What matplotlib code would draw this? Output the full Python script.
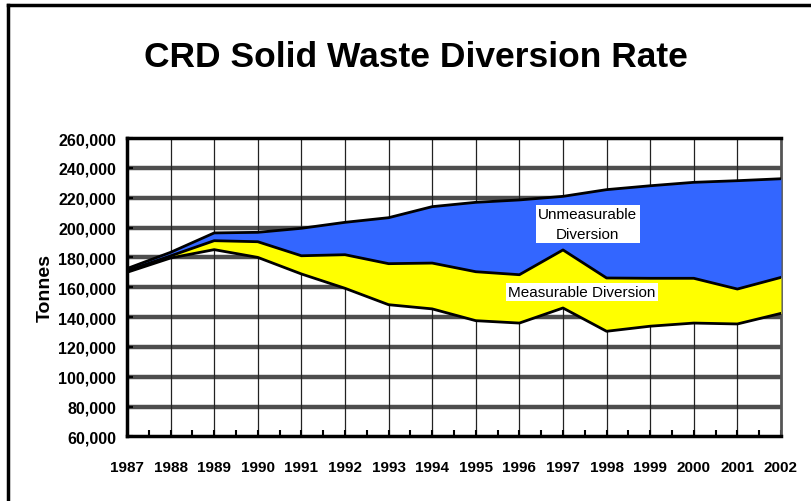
import matplotlib
matplotlib.use("Agg")
import matplotlib.pyplot as plt
from matplotlib.lines import Line2D
from matplotlib.ticker import FuncFormatter, MultipleLocator
import numpy as np

# DATOS (toneladas)
years = [1987, 1988, 1989, 1990, 1991, 1992, 1993, 1994, 1995, 1996,
         1997, 1998, 1999, 2000, 2001, 2002]
disposed = [170000, 179600, 185200, 180000, 168900, 159300, 148300, 145500,
            137600, 136000, 146100, 130500, 133900, 136000, 135400, 142500]
measured_top = [171000, 181000, 191200, 190500, 181100, 181800, 175800, 176200,
                170400, 168400, 185000, 166200, 166000, 166000, 158800, 166600]
total_top = [172500, 183400, 196400, 196800, 199500, 203500, 206600, 214000,
             216900, 218500, 220900, 225400, 228000, 230300, 231400, 232700]

title = "CRD Solid Waste Diversion Rate"
ylabel = "Tonnes"
lbl_unmeasured = "Unmeasurable\nDiversion"
lbl_measured = "Measurable Diversion"

plt.rcParams["font.family"] = ["Liberation Sans", "DejaVu Sans"]

fig = plt.figure(figsize=(8.12, 5.02), dpi=100)
ax = fig.add_axes([0.1564, 0.1285, 0.8054, 0.5946])

# rellenos
ax.fill_between(years, disposed, measured_top, color="#ffff00", zorder=3, lw=0)
ax.fill_between(years, measured_top, total_top, color="#3366ff", zorder=3, lw=0)
for serie in (disposed, measured_top, total_top):
    ax.plot(years, serie, color="black", lw=2, zorder=4)

# ejes
ax.set_xlim(years[0], years[-1])
ax.set_ylim(60000, 260000)
ax.set_xticks(years)
ax.xaxis.set_minor_locator(MultipleLocator(0.5))
ax.yaxis.set_major_locator(MultipleLocator(20000))
ax.yaxis.set_major_formatter(FuncFormatter(lambda v, p: f"{int(v):,}"))

for yv in np.arange(80000, 260000, 20000):
    ax.axhline(yv, color="#4d4d4d", lw=3.2, zorder=1)
for xv in years[1:-1]:
    ax.axvline(xv, color="#222222", lw=0.9, zorder=1)

ax.tick_params(axis="x", which="both", direction="in", length=4, width=1.5,
               pad=17, labelsize=11)
ax.tick_params(axis="y", which="major", direction="in", length=4, width=1.5,
               pad=8, labelsize=11.5)
for t in ax.get_xticklabels() + ax.get_yticklabels():
    t.set_fontweight("bold")

for s in ("left", "bottom", "top"):
    ax.spines[s].set_linewidth(2.5)
ax.spines["right"].set_color("#555555")
ax.spines["right"].set_linewidth(2)

ax.set_ylabel(ylabel, fontsize=14, fontweight="bold", labelpad=3)

# etiquetas
ax.text(1997.57, 202400, lbl_unmeasured, ha="center", va="center", fontsize=11,
        linespacing=1.6, zorder=5,
        bbox=dict(facecolor="white", edgecolor="none", pad=1.5))
ax.text(1997.44, 156800, lbl_measured, ha="center", va="center", fontsize=11,
        zorder=5, bbox=dict(facecolor="white", edgecolor="none", pad=1.5))

fig.text(0.512, 0.885, title, ha="center", va="center", fontsize=25.5,
         fontweight="bold")

# marco exterior
fig.add_artist(Line2D([0.0098, 0.0098], [0, 0.988], color="black", lw=2.5))
fig.add_artist(Line2D([0.0098, 1], [0.988, 0.988], color="black", lw=2.5))

fig.savefig("out.png", dpi=100)
